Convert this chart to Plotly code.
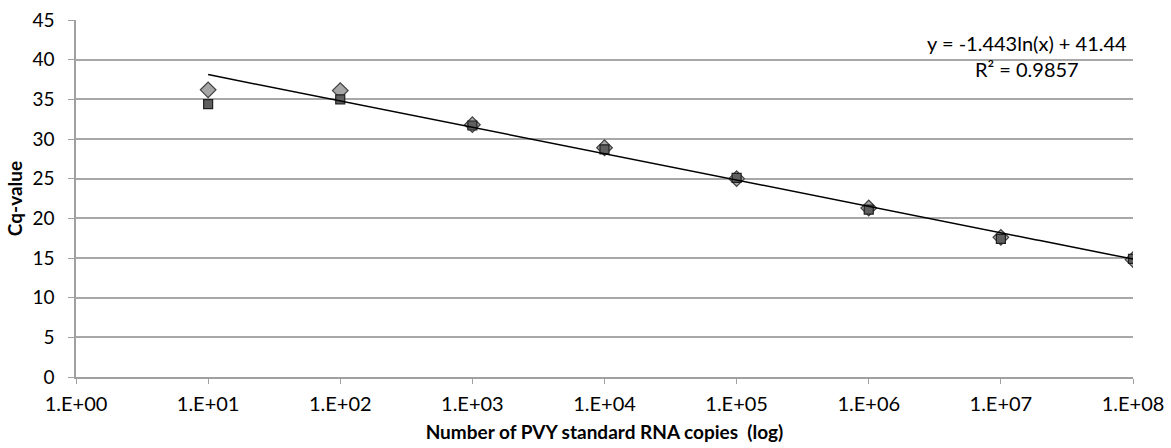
import numpy as np
import plotly.graph_objects as go

copies = [1e1, 1e2, 1e3, 1e4, 1e5, 1e6, 1e7, 1e8]
cq_series1 = [36.2, 36.1, 31.8, 28.9, 25.0, 21.3, 17.6, 14.8]  # diamonds
cq_series2 = [34.4, 35.0, 31.7, 28.7, 25.1, 21.1, 17.4, 14.9]  # squares
trend_slope = -1.443
trend_intercept = 41.44
r_squared = 0.9857
x_tick_vals = [1e0, 1e1, 1e2, 1e3, 1e4, 1e5, 1e6, 1e7, 1e8]
x_tick_text = ["1.E+00", "1.E+01", "1.E+02", "1.E+03", "1.E+04", "1.E+05", "1.E+06", "1.E+07", "1.E+08"]

font_family = "Lato, 'Open Sans', sans-serif"

xt = np.logspace(np.log10(copies[0]), np.log10(copies[-1]), 200)
yt = trend_slope * np.log(xt) + trend_intercept

fig = go.Figure()
fig.add_trace(go.Scatter(x=copies, y=cq_series1, mode="markers",
                         marker=dict(symbol="diamond", size=12, color="#a6a6a6",
                                     line=dict(color="#404040", width=1.2)),
                         showlegend=False))
fig.add_trace(go.Scatter(x=copies, y=cq_series2, mode="markers",
                         marker=dict(symbol="square", size=9, color="#5f5f5f",
                                     line=dict(color="#202020", width=1.2)),
                         showlegend=False))
fig.add_trace(go.Scatter(x=xt, y=yt, mode="lines",
                         line=dict(color="black", width=1.5),
                         showlegend=False, hoverinfo="skip"))

fig.add_annotation(x=1, xref="paper", xanchor="right", xshift=-4,
                   y=1, yref="paper", yanchor="top", yshift=-9,
                   text=f"y = {trend_slope}ln(x) + {trend_intercept}<br>R² = {r_squared}",
                   showarrow=False, align="center",
                   font=dict(family=font_family, size=20, color="black"))

fig.update_layout(
    width=1171, height=448,
    margin=dict(l=76, r=38, t=20, b=71, autoexpand=False),
    plot_bgcolor="white", paper_bgcolor="white",
    font=dict(family=font_family, size=19, color="black"),
    xaxis=dict(type="log", range=[0, 8], tickvals=x_tick_vals, ticktext=x_tick_text,
               tickfont=dict(size=20), ticklabelstandoff=3,
               showgrid=False, showline=True, linecolor="#a0a0a0", linewidth=1.5,
               ticks="outside", ticklen=5, tickcolor="#a0a0a0", automargin=False,
               title=dict(text="<b>Number of PVY standard RNA copies  (log)</b>",
                          font=dict(size=19), standoff=12)),
    yaxis=dict(range=[0, 45], tickmode="array", tickvals=list(range(0, 46, 5)),
               tickfont=dict(size=19), ticklabelstandoff=10,
               showgrid=True, gridcolor="#a8a8a8", gridwidth=1.5,
               showline=True, linecolor="#a0a0a0", linewidth=1.5,
               ticks="outside", ticklen=6, tickcolor="#a0a0a0", zeroline=False,
               automargin=False,
               title=dict(text="<b>Cq-value</b>", font=dict(size=19), standoff=5)),
)

fig.write_html("out.html", post_script="document.body.style.margin='0';",
               config={"displayModeBar": False})
